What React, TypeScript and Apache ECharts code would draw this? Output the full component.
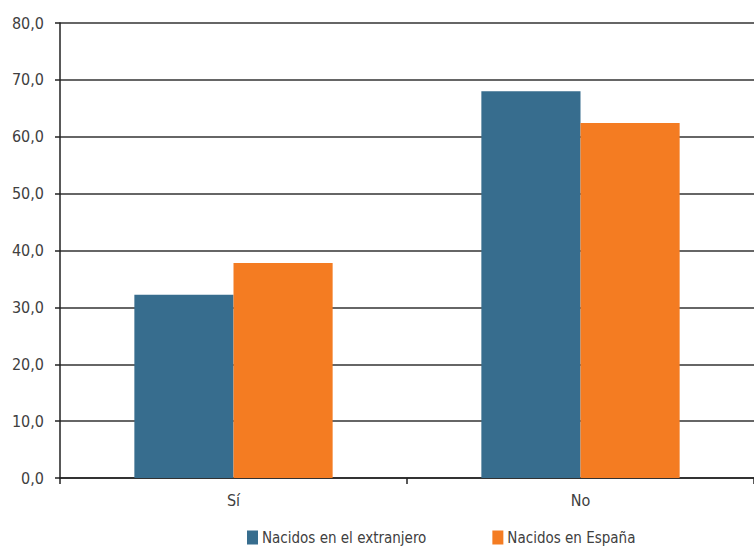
import React, { useEffect, useRef } from "react";
import * as echarts from "echarts";

const categories = ["Sí", "No"];
const extranjero = [32.2, 68.0];
const espana = [37.8, 62.4];
const seriesNames = ["Nacidos en el extranjero", "Nacidos en España"];

const FONT = "'Liberation Sans Narrow', 'DejaVu Sans Condensed', 'Liberation Sans', sans-serif";

export default function App() {
  const ref = useRef<HTMLDivElement>(null);
  useEffect(() => {
    const chart = echarts.init(ref.current!, null, { renderer: "svg" });
    chart.setOption({
      animation: false,
      textStyle: { fontFamily: FONT },
      grid: { left: 60, top: 23, width: 700, bottom: 70, containLabel: false },
      legend: {
        top: 530,
        left: 247,
        padding: 0,
        itemWidth: 11,
        itemHeight: 14,
        itemGap: 66,
        icon: "rect",
        textStyle: { fontFamily: FONT, fontSize: 15, color: "#404040", padding: [0, 0, 0, -1] },
        data: seriesNames,
      },
      xAxis: {
        type: "category",
        data: categories,
        axisLine: { lineStyle: { color: "#222", width: 1.5 } },
        axisTick: { show: true, length: 6, lineStyle: { color: "#222", width: 1.5 } },
        axisLabel: { color: "#404040", fontSize: 16, fontFamily: FONT, margin: 14 },
      },
      yAxis: {
        type: "value",
        min: 0,
        max: 80,
        interval: 10,
        axisLine: { show: true, lineStyle: { color: "#222", width: 1.5 } },
        axisTick: { show: true, length: 5, lineStyle: { color: "#222", width: 1.5 } },
        axisLabel: {
          color: "#404040",
          fontSize: 16,
          fontFamily: FONT,
          margin: 16,
          formatter: (v: number) => v.toFixed(1).replace(".", ","),
        },
        splitLine: { show: true, lineStyle: { color: "#333", width: 1.5 } },
      },
      series: [
        {
          name: seriesNames[0],
          type: "bar",
          data: extranjero,
          itemStyle: { color: "#376d8e" },
          barGap: "0%",
          barCategoryGap: "42.86%",
        },
        {
          name: seriesNames[1],
          type: "bar",
          data: espana,
          itemStyle: { color: "#f47c22" },
          barGap: "0%",
          barCategoryGap: "42.86%",
        },
      ],
    });
    return () => chart.dispose();
  }, []);
  return (
    <div
      ref={ref}
      style={{ position: "absolute", left: 0, top: 0, width: 754, height: 548, background: "#fff" }}
    />
  );
}
